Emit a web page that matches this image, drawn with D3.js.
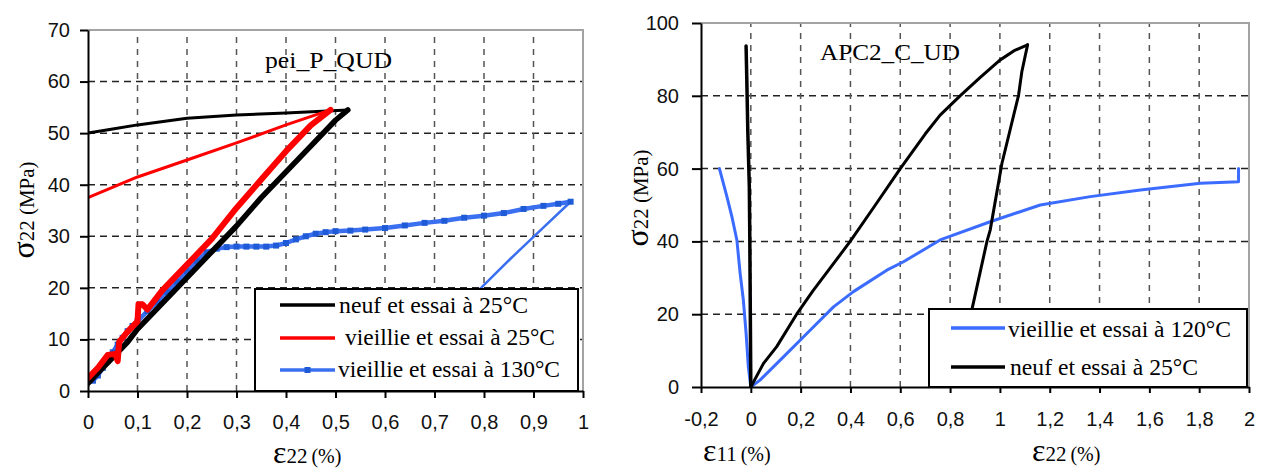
<!DOCTYPE html>
<html><head><meta charset="utf-8">
<script src="https://cdn.jsdelivr.net/npm/d3@7"></script>
<style>body{margin:0;background:#fff}svg{display:block}
.serif{font-family:"Liberation Serif","Times New Roman",Tinos,serif}
.sans{font-family:"Liberation Sans",Arial,sans-serif}</style>
</head><body>
<svg id="c" width="1261" height="472"></svg>
<script>
// ---------------- DATA (left panel: pei_P_QUD) ----------------
const leftTitle = "pei_P_QUD";
const leftXTicks = [0,0.1,0.2,0.3,0.4,0.5,0.6,0.7,0.8,0.9,1];
const leftXTickLabels = ["0","0,1","0,2","0,3","0,4","0,5","0,6","0,7","0,8","0,9","1"];
const leftYTicks = [0,10,20,30,40,50,60,70];
const leftYTickLabels = ["0","10","20","30","40","50","60","70"];
const leftLegend = ["neuf et essai à 25°C","vieillie et essai à 25°C","vieillie et essai à 130°C"];

// [strain %, stress MPa]
const neuf25Load = [[0,1.5],[0.02,3.5],[0.05,6.5],[0.08,9.5],[0.1,12],[0.15,17],[0.2,22],[0.25,27],[0.3,32],[0.35,37.5],[0.4,42.5],[0.45,47.5],[0.5,52.5],[0.525,54.5]];
const neuf25Unload = [[0.525,54.5],[0.4,53.9],[0.3,53.5],[0.2,52.9],[0.1,51.6],[0.05,50.8],[0,50]];
const vieil25Load = [[0,2.5],[0.02,4.5],[0.04,7],[0.055,7.2],[0.06,5.8],[0.063,9.5],[0.08,11.5],[0.1,13.5],[0.102,16.8],[0.11,16.8],[0.12,15.8],[0.15,19.5],[0.2,24.5],[0.25,29.5],[0.3,35.5],[0.35,41],[0.4,46.5],[0.45,51.5],[0.49,54.5]];
const vieil25Unload = [[0.49,54.5],[0.4,51.6],[0.3,48.1],[0.2,44.8],[0.1,41.5],[0,37.5]];
const vieil130Load = [[0.01,2],[0.02,3],[0.03,4.5],[0.04,6],[0.05,7.5],[0.06,9],[0.07,10.3],[0.08,11.6],[0.09,12.6],[0.1,13.5],[0.12,15.5],[0.14,17.3],[0.16,19.2],[0.18,21.2],[0.2,23.2],[0.22,25.2],[0.24,26.9],[0.26,27.6],[0.28,27.9],[0.3,28],[0.32,28],[0.34,28],[0.36,28],[0.38,28.2],[0.4,28.7],[0.42,29.4],[0.44,30],[0.46,30.5],[0.48,30.8],[0.5,31],[0.53,31.1],[0.56,31.3],[0.6,31.6],[0.64,32.1],[0.68,32.6],[0.72,33],[0.76,33.6],[0.8,34],[0.84,34.5],[0.88,35.3],[0.92,35.9],[0.95,36.3],[0.975,36.7]];
const vieil130Unload = [[0.975,36.7],[0.9,29.9],[0.853,25.6],[0.792,19.8],[0.7,11],[0.6,1.5]];

// ---------------- DATA (right panel: APC2_C_UD) ----------------
const rightTitle = "APC2_C_UD";
const rightXTicks = [-0.2,0,0.2,0.4,0.6,0.8,1,1.2,1.4,1.6,1.8,2];
const rightXTickLabels = ["-0,2","0","0,2","0,4","0,6","0,8","1","1,2","1,4","1,6","1,8","2"];
const rightYTicks = [0,20,40,60,80,100];
const rightYTickLabels = ["0","20","40","60","80","100"];
const rightLegend = ["vieillie et essai à 120°C","neuf et essai à 25°C"];

const v120E11 = [[0,0],[-0.01,5.6],[-0.019,14.8],[-0.03,23.9],[-0.043,31.3],[-0.056,40.4],[-0.076,46.8],[-0.096,52.3],[-0.126,60]];
const v120E22 = [[0,0],[0.037,1.9],[0.118,7.4],[0.225,14.7],[0.332,22],[0.412,26.2],[0.546,32.1],[0.613,34.4],[0.76,40.4],[0.961,45.4],[1.162,50],[1.363,52.3],[1.564,54.1],[1.805,56],[1.958,56.4],[1.958,60]];
const n25E11 = [[0,0],[-0.002,20],[-0.004,40],[-0.006,55],[-0.012,70],[-0.016,84],[-0.019,93.7]];
const n25E22Load = [[0,0],[0.051,6.5],[0.104,11.1],[0.184,20],[0.25,26.5],[0.3,31],[0.399,40],[0.5,50],[0.6,60],[0.7,69.5],[0.76,74.7],[0.84,80],[0.92,85],[1.0,89.8],[1.06,92.5],[1.111,94]];
const n25E22Unload = [[1.111,94],[1.088,86.6],[1.075,80.2],[1.008,61.4],[0.961,43.1],[0.948,40],[0.888,21.4],[0.82,0]];

// ---------------- DRAWING ----------------
const svg = d3.select('#c');
const BLUE_L = "#3a6ff0", BLUE_M = "#1f5bd6", BLUE_R = "#3b6cff";

function panel(o){
  const g = svg.append('g');
  const x = o.x, y = o.y;
  const [x0,x1] = x.range(), [y0,y1] = y.range();
  const id = 'clip'+o.key;
  svg.append('clipPath').attr('id',id).append('rect')
     .attr('x',x0).attr('y',y1).attr('width',x1-x0).attr('height',y0-y1);
  g.selectAll('.hg').data(o.hGrid).enter().append('line')
    .attr('x1',x0).attr('x2',x1).attr('y1',d=>y(d)).attr('y2',d=>y(d))
    .attr('stroke','#222').attr('stroke-width',1.5).attr('stroke-dasharray','7,5');
  g.selectAll('.vg').data(o.vGrid).enter().append('line')
    .attr('y1',y0).attr('y2',y1).attr('x1',d=>x(d)).attr('x2',d=>x(d))
    .attr('stroke','#555').attr('stroke-width',1.5).attr('stroke-dasharray','6,6');
  g.append('path').attr('d',`M${x0},${y1}H${x1}V${y0}`).attr('fill','none')
    .attr('stroke','#a3a3a3').attr('stroke-width',2);
  const dg = g.append('g').attr('clip-path',`url(#${id})`);
  const line = d3.line().x(d=>x(d[0])).y(d=>y(d[1]));
  o.series.forEach(s=>{
    dg.append('path').attr('d',line(s.data)).attr('fill','none')
      .attr('stroke',s.color).attr('stroke-width',s.width)
      .attr('stroke-linejoin','round').attr('stroke-linecap','round');
    if(s.markers){
      dg.selectAll(null).data(s.data).enter().append('rect')
        .attr('x',d=>x(d[0])-3).attr('y',d=>y(d[1])-3).attr('width',6).attr('height',6)
        .attr('fill',s.markers);
    }
  });
  const L = o.legend;
  g.append('rect').attr('x',L.x).attr('y',L.y).attr('width',L.w).attr('height',L.h)
    .attr('fill','#fff').attr('stroke','#000').attr('stroke-width',2);
  L.items.forEach(it=>{
    g.append('line').attr('x1',L.lx0).attr('x2',L.lx1).attr('y1',it.ly).attr('y2',it.ly)
      .attr('stroke',it.color).attr('stroke-width',it.w);
    if(it.marker){
      g.append('rect').attr('x',(L.lx0+L.lx1)/2-3).attr('y',it.ly-3).attr('width',6).attr('height',6)
        .attr('fill',it.marker);
    }
    g.append('text').attr('class','serif').attr('x',it.tx).attr('y',it.ty).text(it.label)
      .attr('font-size',23).attr('fill','#000')
      .attr('textLength',it.tw).attr('lengthAdjust','spacingAndGlyphs');
  });
  const fmtX = d=>o.xLabels[o.xTicks.indexOf(d)];
  const fmtY = d=>o.yLabels[o.yTicks.indexOf(d)];
  const ax = g.append('g').attr('transform',`translate(0,${y0})`)
    .call(d3.axisBottom(x).tickValues(o.xTicks).tickFormat(fmtX).tickSize(o.bTick).tickSizeOuter(0).tickPadding(o.bPad));
  const ay = g.append('g').attr('transform',`translate(${x0},0)`)
    .call(d3.axisLeft(y).tickValues(o.yTicks).tickFormat(fmtY).tickSize(o.lTick).tickSizeOuter(0).tickPadding(o.lPad));
  [ax,ay].forEach(a=>{
    a.attr('font-family',null);
    a.selectAll('path,line').attr('stroke','#000').attr('stroke-width',2);
    a.selectAll('text').attr('class','sans').attr('font-size',20).attr('fill','#111');
  });
  g.append('text').attr('class','serif').attr('x',o.title.x).attr('y',o.title.y).text(o.title.t)
    .attr('font-size',24).attr('textLength',o.title.w)
    .attr('lengthAdjust','spacingAndGlyphs');
  o.xTitles.forEach(t=>{
    const tx = g.append('text').attr('class','serif').attr('x',t.x).attr('y',t.y).attr('fill','#000');
    tx.append('tspan').attr('font-size',32).text('ε');
    tx.append('tspan').attr('font-size',21).text(t.sub);
    tx.append('tspan').attr('font-size',20).attr('dx',4).text('(%)');
  });
  const yt = g.append('text').attr('class','serif')
    .attr('transform',`translate(${o.yTitle.x},${o.yTitle.y}) rotate(-90)`)
    .attr('text-anchor','middle').attr('fill','#000');
  yt.append('tspan').attr('font-size',32).text('σ');
  yt.append('tspan').attr('font-size',21).text('22 (MPa)');
}

const lx = d3.scaleLinear().domain([0,1]).range([88,583]);
const ly = d3.scaleLinear().domain([0,70]).range([391,30]);
panel({
  key:'L', x:lx, y:ly,
  hGrid:[10,20,30,40,50,60], vGrid:[0.1,0.2,0.3,0.4,0.5,0.6,0.7,0.8,0.9],
  series:[
    {data:vieil130Unload,color:BLUE_L,width:2.5},
    {data:neuf25Unload,color:'#000',width:3},
    {data:vieil25Unload,color:'#ff0000',width:3},
    {data:vieil130Load,color:BLUE_L,width:4.5,markers:BLUE_M},
    {data:neuf25Load,color:'#000',width:5.5},
    {data:vieil25Load,color:'#ff0000',width:6}
  ],
  legend:{x:255,y:289,w:323,h:102,lx0:280,lx1:335,items:[
    {label:leftLegend[0],color:'#000',w:3.5,ly:305,tx:339,ty:313,tw:189},
    {label:leftLegend[1],color:'#ff0000',w:3.5,ly:338,tx:345,ty:345,tw:210},
    {label:leftLegend[2],color:BLUE_L,w:3.5,ly:370,tx:338,ty:377,tw:222,marker:BLUE_M}
  ]},
  xTicks:leftXTicks, xLabels:leftXTickLabels, yTicks:leftYTicks, yLabels:leftYTickLabels,
  bTick:7,bPad:17,lTick:8,lPad:10,
  title:{t:leftTitle,x:265,y:68,w:127},
  xTitles:[{x:273,y:463,sub:'22'}],
  yTitle:{x:34,y:210}
});

const rx = d3.scaleLinear().domain([-0.2,2]).range([701,1249]);
const ry = d3.scaleLinear().domain([0,100]).range([387,23]);
panel({
  key:'R', x:rx, y:ry,
  hGrid:[20,40,60,80], vGrid:[0,0.2,0.4,0.6,0.8,1,1.2,1.4,1.6,1.8],
  series:[
    {data:v120E11,color:BLUE_R,width:3},
    {data:v120E22,color:BLUE_R,width:3},
    {data:n25E11,color:'#000',width:3.5},
    {data:n25E22Load,color:'#000',width:3},
    {data:n25E22Unload,color:'#000',width:3}
  ],
  legend:{x:929,y:309,w:318,h:78,lx0:951,lx1:1005,items:[
    {label:rightLegend[0],color:BLUE_R,w:3.5,ly:328,tx:1008,ty:337,tw:223},
    {label:rightLegend[1],color:'#000',w:3.5,ly:367,tx:1010,ty:375,tw:188}
  ]},
  xTicks:rightXTicks, xLabels:rightXTickLabels, yTicks:rightYTicks, yLabels:rightYTickLabels,
  bTick:6,bPad:19,lTick:9,lPad:13,
  title:{t:rightTitle,x:820,y:60,w:140},
  xTitles:[{x:703,y:461,sub:'11'},{x:1032,y:461,sub:'22'}],
  yTitle:{x:648,y:198}
});
</script>
</body></html>
